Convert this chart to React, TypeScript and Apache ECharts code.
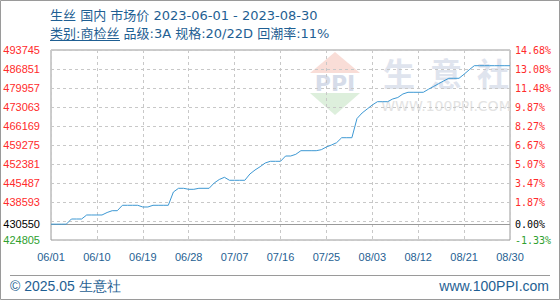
import React, { useEffect, useRef } from 'react';
import * as echarts from 'echarts';

// Categories: every day from 06/01 to 08/30 (2023)
const monthLengths: [string, number][] = [['06', 30], ['07', 31], ['08', 30]];
const dates: string[] = [];
for (const [m, n] of monthLengths) {
  for (let d = 1; d <= n; d++) dates.push(`${m}/${String(d).padStart(2, '0')}`);
}

// Daily price (yuan/ton)
const prices: number[] = [
  430550, 430550, 430550, 430550, 432420, 432420, 432420, 433880, 433880, 433880,
  433880, 434780, 435440, 435440, 437400, 437400, 437400, 437400, 436780, 436780,
  437400, 437400, 437400, 437400, 442220, 443560, 443560, 443200, 443200, 443560,
  443560, 443560, 445490, 446760, 447560, 446470, 446470, 446470, 446470, 448750,
  450200, 451400, 452740, 453360, 453360, 453360, 455280, 455280, 455900, 457210,
  457210, 457210, 457210, 457570, 458550, 459280, 460110, 461920, 461920, 461920,
  468890, 470890, 472340, 473790, 474990, 474990, 474990, 475970, 476510, 477780,
  478400, 478400, 478400, 478400, 479490, 480500, 481520, 482530, 483480, 483480,
  483480, 484960, 486560, 488050, 488050, 488050, 488050, 488050, 488050, 488050,
  488050,
];

const BASE = 430550;
const Y_MIN = 424805;
const Y_MAX = 493745;
const Y_STEP = 6894;

const titleLine1 = '生丝 国内 市场价 2023-06-01 - 2023-08-30';
const titleLine2 = '类别:商检丝 品级:3A 规格:20/22D 回潮率:11%';
const footerLeft = '© 2025.05 生意社';
const footerRight = 'www.100PPI.com';

const BLUE = '#1f5f93';
const RED = '#ff2b2b';
const GREEN = '#2f9f2f';
const SANS = '"Liberation Sans", Arial, sans-serif';
const TITLE_FONT = '"DejaVu Sans", "Noto Sans CJK SC", sans-serif';
const MONO = '"DejaVu Sans Mono", monospace';

export default function App() {
  const ref = useRef<HTMLDivElement>(null);

  useEffect(() => {
    if (!ref.current) return;
    const chart = echarts.init(ref.current, undefined, { renderer: 'svg' });

    const isHidden = (v: number) => v > Y_MIN + 1 && v < BASE + 3000;

    const option: any = {
      animation: false,
      backgroundColor: '#fff',
      grid: {
        left: 51, right: 50, top: 50, bottom: 60,
        show: true, borderColor: '#9a9a9a', borderWidth: 1, backgroundColor: 'transparent',
      },
      xAxis: {
        type: 'category',
        data: dates,
        boundaryGap: false,
        axisLine: { show: false },
        axisTick: { show: false },
        axisLabel: {
          interval: 8, color: BLUE, fontFamily: SANS, fontSize: 11, margin: 11,
        },
        splitLine: { show: true, interval: 8, lineStyle: { color: '#c8c8c8', type: [3, 3], width: 1 } },
      },
      yAxis: [
        {
          type: 'value', position: 'left', min: Y_MIN, max: Y_MAX, interval: Y_STEP,
          axisLine: { show: false }, axisTick: { show: false },
          splitLine: { show: true, lineStyle: { color: '#c8c8c8', type: [3, 3], width: 1 } },
          axisLabel: {
            margin: 11,
            formatter: (v: number) => {
              const r = Math.round(v);
              if (isHidden(r)) return '';
              if (r <= Y_MIN + 1) return `{g|${r}}`;
              return `{r|${r}}`;
            },
            rich: {
              r: { color: RED, fontFamily: SANS, fontSize: 11 },
              g: { color: GREEN, fontFamily: SANS, fontSize: 11 },
            },
          },
        },
        {
          type: 'value', position: 'right', min: Y_MIN, max: Y_MAX, interval: Y_STEP,
          axisLine: { show: false }, axisTick: { show: false },
          splitLine: { show: false },
          axisLabel: {
            margin: 5,
            formatter: (v: number) => {
              const r = Math.round(v);
              if (isHidden(r)) return '';
              const pct = ((r / BASE - 1) * 100).toFixed(2) + '%';
              if (r <= Y_MIN + 1) return `{g|${pct}}`;
              return `{r|${pct}}`;
            },
            rich: {
              r: { color: RED, fontFamily: MONO, fontSize: 10 },
              g: { color: GREEN, fontFamily: MONO, fontSize: 10 },
            },
          },
        },
      ],
      series: [
        {
          type: 'line',
          data: prices,
          yAxisIndex: 0,
          symbol: 'none',
          z: 5,
          lineStyle: { color: '#3d98d3', width: 1 },
          markLine: {
            silent: true,
            symbol: 'none',
            animation: false,
            lineStyle: { color: '#9a9a9a', type: 'solid', width: 1 },
            data: [
              { yAxis: BASE, label: { position: 'start', formatter: String(BASE), color: '#000', fontFamily: SANS, fontSize: 11, distance: 11 } },
              { yAxis: BASE, label: { position: 'end', formatter: '0.00%', color: '#000', fontFamily: MONO, fontSize: 10, distance: 5 } },
            ],
          },
        },
      ],
      graphic: [
        // watermark
        { type: 'polygon', z: 0, shape: { points: [[335, 52], [310, 73], [360, 73]] }, style: { fill: '#f9ddd7' } },
        { type: 'text', z: 0, x: 335, y: 83, style: { text: 'PPI', fill: '#d6dce9', font: 'bold 22px "DejaVu Sans", sans-serif', align: 'center', verticalAlign: 'middle' } },
        { type: 'polygon', z: 0, shape: { points: [[310, 93], [360, 93], [335, 115]] }, style: { fill: '#ddefdc' } },
        { type: 'text', z: 0, x: 399, y: 72, style: { text: '生', fill: '#dfe4ee', font: 'bold 32px "Noto Sans CJK SC", sans-serif', align: 'center', verticalAlign: 'middle' } },
        { type: 'text', z: 0, x: 446, y: 72, style: { text: '意', fill: '#dfe4ee', font: 'bold 32px "Noto Sans CJK SC", sans-serif', align: 'center', verticalAlign: 'middle' } },
        { type: 'text', z: 0, x: 493, y: 72, style: { text: '社', fill: '#dfe4ee', font: 'bold 32px "Noto Sans CJK SC", sans-serif', align: 'center', verticalAlign: 'middle' } },
        { type: 'text', z: 0, x: 446, y: 106, style: { text: 'WWW.100PPI.COM', fill: '#e3e3e3', font: '14px "DejaVu Sans", sans-serif', align: 'center', verticalAlign: 'middle' } },
        // frame
        { type: 'rect', z: 1, shape: { x: 0.5, y: 0.5, width: 559, height: 299 }, style: { fill: 'none', stroke: '#9a9a9a', lineWidth: 1 } },
        { type: 'line', z: 1, shape: { x1: 10, y1: 275.5, x2: 550, y2: 275.5 }, style: { stroke: '#9a9a9a', lineWidth: 1 } },
        // titles
        { type: 'text', z: 1, x: 50, y: 15, style: { text: titleLine1, fill: BLUE, font: `13px ${TITLE_FONT}`, align: 'left', verticalAlign: 'middle' } },
        { type: 'text', z: 1, x: 50, y: 33, style: { text: titleLine2, fill: BLUE, font: `13px ${TITLE_FONT}`, align: 'left', verticalAlign: 'middle' } },
        { type: 'line', z: 1, shape: { x1: 50, y1: 40.5, x2: 120, y2: 40.5 }, style: { stroke: BLUE, lineWidth: 1 } },
        // footer
        { type: 'text', z: 1, x: 10, y: 286, style: { text: footerLeft, fill: BLUE, font: `14px ${SANS}`, align: 'left', verticalAlign: 'middle' } },
        { type: 'text', z: 1, x: 549, y: 286, style: { text: footerRight, fill: BLUE, font: `14px ${SANS}`, align: 'right', verticalAlign: 'middle' } },
      ],
    };

    chart.setOption(option);
    return () => chart.dispose();
  }, []);

  return <div ref={ref} style={{ position: 'fixed', left: 0, top: 0, width: 560, height: 300 }} />;
}
